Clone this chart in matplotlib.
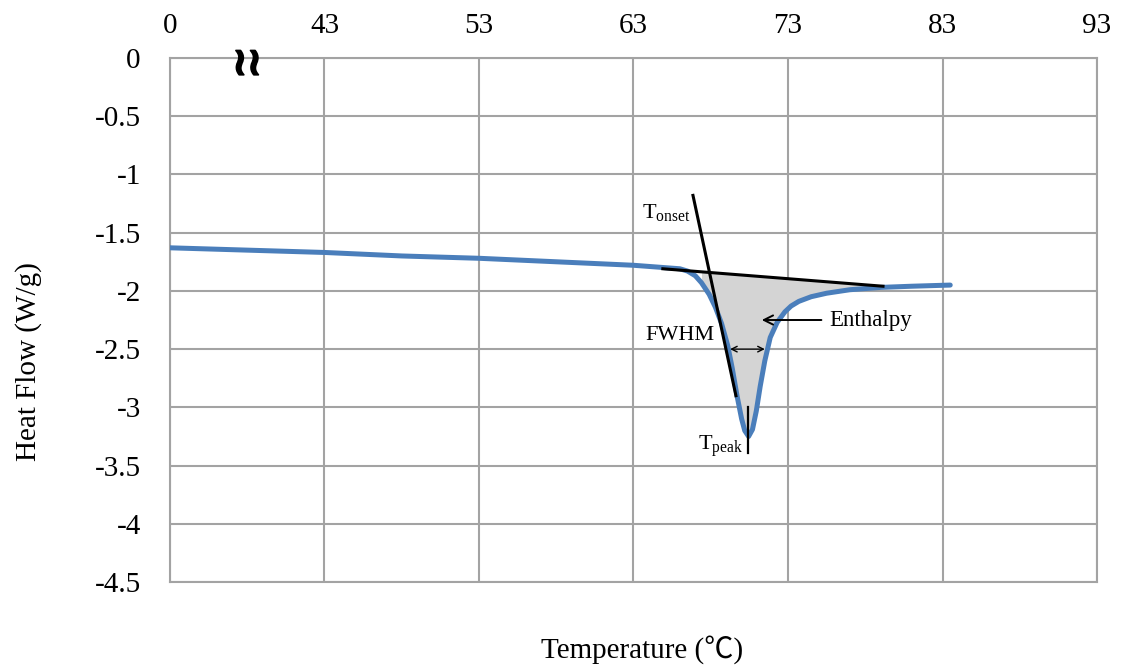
import numpy as np
import matplotlib.pyplot as plt
import matplotlib.patheffects as pe

plt.rcParams['font.family'] = ['Liberation Serif', 'DejaVu Serif']

# DSC curve (x in plot units: 33 == broken-axis "0")
temp = [33, 38, 43, 48, 53, 58, 63, 65, 66.0, 66.5, 67.0, 67.4, 67.9, 68.3, 68.7,
        69.1, 69.4, 69.7, 70.0, 70.2, 70.45, 70.7, 70.95, 71.2, 71.5, 71.85, 72.3,
        72.8, 73.2, 73.7, 74.5, 75.5, 77.0, 79.0, 81.0, 83.5]
heat_flow = [-1.63, -1.65, -1.67, -1.70, -1.72, -1.75, -1.78, -1.80, -1.81, -1.83,
             -1.87, -1.93, -2.03, -2.14, -2.28, -2.47, -2.67, -2.90, -3.10, -3.20,
             -3.25, -3.19, -3.03, -2.82, -2.60, -2.40, -2.27, -2.18, -2.13, -2.09,
             -2.05, -2.02, -1.99, -1.97, -1.96, -1.95]

baseline_x = [64.9, 79.15]
baseline_y = [-1.81, -1.96]
onset_x = [66.85, 69.63]
onset_y = [-1.18, -2.90]
peak_x = 70.41
peak_y = [-3.0, -3.39]
fwhm_x = [69.25, 71.5]
fwhm_y = -2.50

xticks = [33, 43, 53, 63, 73, 83, 93]
xticklabels = ['0', '43', '53', '63', '73', '83', '93']
yticks = np.arange(0, -4.51, -0.5)

fig = plt.figure(figsize=(11.24, 6.68), dpi=100)
ax = fig.add_axes([0.1512, 0.1287, 0.8248, 0.7845])

grid_c = '#a3a3a3'
ax.set_xlim(33, 93)
ax.set_ylim(-4.5, 0)
ax.set_xticks(xticks)
ax.set_xticklabels(xticklabels)
ax.set_yticks(yticks)
ax.set_yticklabels(['0' if v == 0 else f'{v:g}' for v in yticks])
ax.xaxis.tick_top()
ax.tick_params(axis='both', length=0, labelsize=21, colors='black')
ax.tick_params(axis='x', pad=14)
ax.tick_params(axis='y', pad=21)
ax.grid(True, color=grid_c, lw=1.5)
for s in ax.spines.values():
    s.set_color(grid_c)
    s.set_linewidth(1.5)
ax.set_axisbelow(True)

# enthalpy area
t = np.array(temp)
hf = np.array(heat_flow)
mask = (t >= 67.3) & (t <= 79.15)
base = np.interp(t[mask], baseline_x, baseline_y)
ax.fill_between(t[mask], base, hf[mask], color='#d4d4d4', lw=0, zorder=2)

ax.plot(temp, heat_flow, color='#4a7ebb', lw=3.6, solid_capstyle='round',
        solid_joinstyle='round', zorder=3)

ax.plot(baseline_x, baseline_y, color='black', lw=2.2, zorder=4)
ax.plot(onset_x, onset_y, color='black', lw=2.2, zorder=4)
ax.plot([peak_x, peak_x], peak_y, color='black', lw=1.6, zorder=4)

ax.annotate('', xy=(fwhm_x[0], fwhm_y), xytext=(fwhm_x[1], fwhm_y),
            arrowprops=dict(arrowstyle='<->', color='black', lw=1,
                            shrinkA=0, shrinkB=0), zorder=5)
ax.annotate('Enthalpy', xy=(71.3, -2.25), xytext=(75.7, -2.25),
            fontsize=16.5, va='center', ha='left',
            arrowprops=dict(arrowstyle='->', color='black', lw=1.4,
                            shrinkA=4, shrinkB=0))

ax.text(63.55, -1.33, r'T$_{\mathregular{onset}}$', fontsize=16, va='center', ha='left')
ax.text(63.75, -2.38, 'FWHM', fontsize=16, va='center', ha='left')
ax.text(67.2, -3.34, r'T$_{\mathregular{peak}}$', fontsize=16, va='center', ha='left')

# axis break mark
ax.text(38.0, -0.05, '≀≀', fontsize=28, fontweight='bold', family='DejaVu Sans',
        ha='center', va='center', clip_on=False, zorder=6,
        path_effects=[pe.withStroke(linewidth=1.2, foreground='black')])

ax.set_ylabel('Heat Flow (W/g)', fontsize=21)
ax.yaxis.set_label_coords(-0.138, 0.42)
fig.text(0.571, 0.027, 'Temperature (℃)', fontsize=21, ha='center', va='center',
         family=['Liberation Serif', 'Noto Sans CJK SC', 'DejaVu Sans'])

fig.savefig('out.png', dpi=100)
